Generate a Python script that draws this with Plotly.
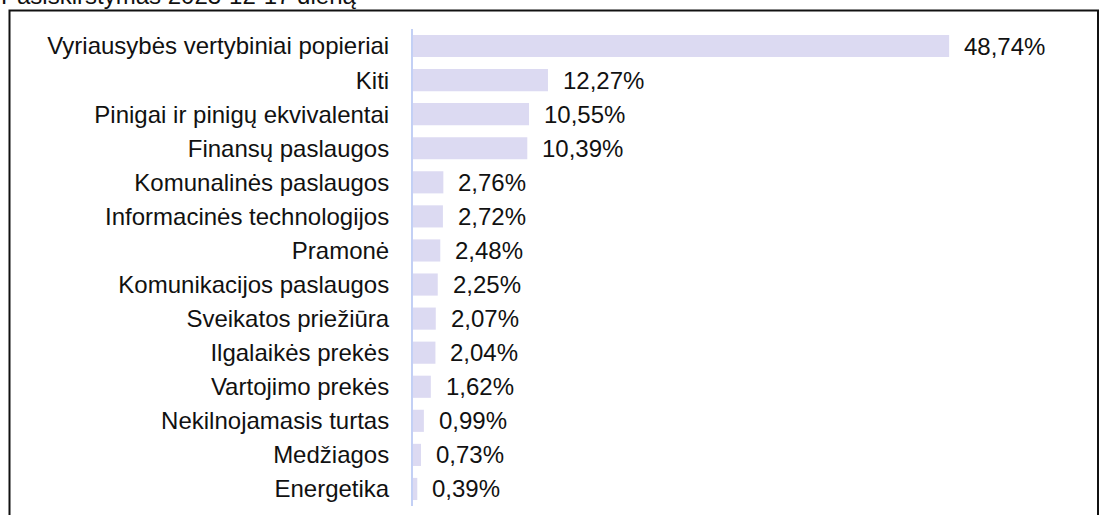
import plotly.graph_objects as go

categories = [
    "Vyriausybės vertybiniai popieriai", "Kiti", "Pinigai ir pinigų ekvivalentai",
    "Finansų paslaugos", "Komunalinės paslaugos", "Informacinės technologijos",
    "Pramonė", "Komunikacijos paslaugos", "Sveikatos priežiūra", "Ilgalaikės prekės",
    "Vartojimo prekės", "Nekilnojamasis turtas", "Medžiagos", "Energetika",
]
values = [48.74, 12.27, 10.55, 10.39, 2.76, 2.72, 2.48, 2.25, 2.07, 2.04, 1.62, 0.99, 0.73, 0.39]
labels = ["48,74%", "12,27%", "10,55%", "10,39%", "2,76%", "2,72%", "2,48%", "2,25%",
          "2,07%", "2,04%", "1,62%", "0,99%", "0,73%", "0,39%"]
title_text = "Pasiskirstymas 2023-12-17 dieną"

W, H = 1101, 515
L, R, T, B = 413, 1073, 29, 506
FONT = "Liberation Sans, Arial, sans-serif"
FS = 24

def px(x):
    return (x - L) / (R - L)

def py(y):
    return (B - y) / (B - T)

fig = go.Figure(go.Bar(
    x=values, y=categories, orientation="h",
    marker=dict(color="#dcdaf2", line=dict(width=0)),
    width=0.65, hoverinfo="skip",
))

annotations = [
    dict(x=v, y=c, xref="x", yref="y", text=t, showarrow=False,
         xanchor="left", yanchor="middle", xshift=13,
         font=dict(family=FONT, size=FS, color="#111"))
    for v, c, t in zip(values, categories, labels)
]
annotations.append(dict(
    x=px(-1), y=py(11), xref="paper", yref="paper", text=title_text, showarrow=False,
    xanchor="left", yanchor="bottom", font=dict(family=FONT, size=FS, color="#111")))

fig.update_layout(
    width=W, height=H,
    margin=dict(l=L, r=W - R, t=T, b=H - B, pad=0),
    paper_bgcolor="white", plot_bgcolor="white",
    showlegend=False,
    xaxis=dict(range=[0, 60], visible=False, fixedrange=True),
    yaxis=dict(
        autorange="reversed", showgrid=False, zeroline=False, fixedrange=True,
        showline=True, linecolor="#c3d0f5", linewidth=2,
        ticks="", ticklabelstandoff=17,
        tickfont=dict(family=FONT, size=FS, color="#111"),
    ),
    annotations=annotations,
    shapes=[dict(type="rect", xref="paper", yref="paper",
                 x0=px(9.5), x1=px(1098), y0=py(525), y1=py(10.5),
                 line=dict(color="#111", width=2), fillcolor="rgba(0,0,0,0)", layer="below")],
)

fig.write_html(
    "out.html",
    config={"displayModeBar": False},
    post_script="document.body.style.margin='0';document.body.style.overflow='hidden';",
)
